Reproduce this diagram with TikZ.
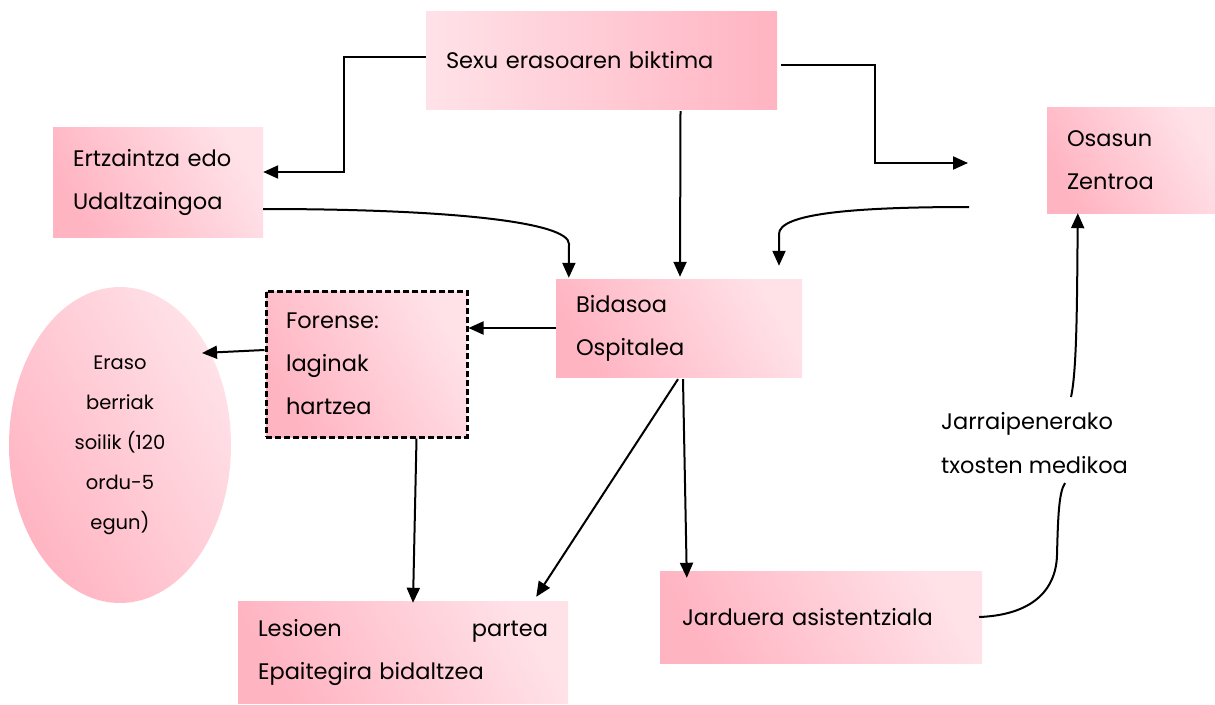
\documentclass[tikz,border=0pt]{standalone}
\usepackage{fontspec}
\setmainfont{Poppins}
\usetikzlibrary{arrows.meta,shapes.geometric,calc}
\definecolor{pinkD}{RGB}{255,180,194}
\definecolor{pinkL}{RGB}{255,226,232}
\begin{document}
\begin{tikzpicture}[x=1pt,y=-1pt,
  box/.style={rectangle, left color=pinkD, right color=pinkL, shading angle=120,
    inner xsep=20pt, inner ysep=0pt, align=left, font=\fontsize{22.5}{43}\selectfont},
  arr/.style={-{Triangle[length=15pt,width=13pt]}, line width=2pt, black},
  ln/.style={line width=2pt, black}]
\useasboundingbox (0,0) rectangle (1215,704);

\node[box, left color=pinkL, right color=pinkD, text width=311pt, minimum height=98pt] (sexu) at (601.5,60) {Sexu erasoaren biktima};
\node[box, text width=170pt, minimum height=110pt] (ertz) at (158,182) {Ertzaintza edo\\Udaltzaingoa};
\node[box, text width=128pt, minimum height=106pt] (osa) at (1131,160) {Osasun\\Zentroa};
\node[box, text width=206pt, minimum height=98pt] (bida) at (679,328) {Bidasoa\\Ospitalea};
\node[box, draw=black, line width=3pt, dash pattern=on 6pt off 3pt, text width=161pt, minimum height=146pt] (fore) at (366.5,364) {Forense:\\laginak\\hartzea};
\node[box, text width=290pt, minimum height=102pt] (lesi) at (403,652) {Lesioen \hfill partea\\Epaitegira bidaltzea};
\node[box, inner xsep=22pt, text width=278pt, minimum height=92pt] (jard) at (821,617) {Jarduera asistentziala};
\node[ellipse, left color=pinkD, right color=pinkL, shading angle=120, minimum width=222pt, minimum height=316pt, inner sep=0pt, align=center, font=\fontsize{19.5}{40}\selectfont] (ell) at (120,445) {Eraso\\berriak\\soilik (120\\ordu-5\\egun)};
\node[anchor=west, inner sep=0pt, align=left, font=\fontsize{22.5}{44}\selectfont] (jarr) at (941,443) {Jarraipenerako\\txosten medikoa};

\coordinate (c1) at (968,163);
\coordinate (c2) at (969,207);
\coordinate (c3) at (1065,483);
\coordinate (c4) at (1071,397);

\draw[arr] ($(sexu.west)+(0,-3)$) -- ++(-82,0) |- ($(ertz.east)+(0,-10)$);
\draw[arr] ($(sexu.east)+(4,5)$) -- ++(94,0) |- (c1);
\draw[arr] ($(sexu.south)+(79,2)$) -- ($(bida.north)+(1,-2)$);
\draw[arr] ($(ertz.east)+(0,27)$) .. controls (450,209) and (569,222) .. (569,244) -- ($(bida.north west)+(13,-1)$);
\draw[arr] (c2) .. controls (850,207) and (779,214) .. (779,234) -- ($(bida.north)+(100,-13)$);
\draw[arr] (bida.west) -- (bida.west -| fore.east);
\draw[arr] ($(fore.west)+(0,-14)$) -- ($(ell.center)+(82,-92)$);
\draw[arr] ($(fore.south)+(50,0)$) -- ($(lesi.north)+(10,2)$);
\draw[arr] ($(bida.south)+(-1,2)$) -- ($(lesi.north east)+(-32,-4)$);
\draw[arr] ($(bida.south)+(4,2)$) -- ($(jard.north west)+(27,7)$);
\draw[ln] ($(jard.east)+(-3,0)$) .. controls (1030,615) and (1056,592) .. (1057,555) .. controls (1058,515) and (1059,492) .. (c3);
\draw[arr] (c4) .. controls (1077,370) and (1077,300) .. ($(osa.south west)+(31,0)$);
\end{tikzpicture}
\end{document}
